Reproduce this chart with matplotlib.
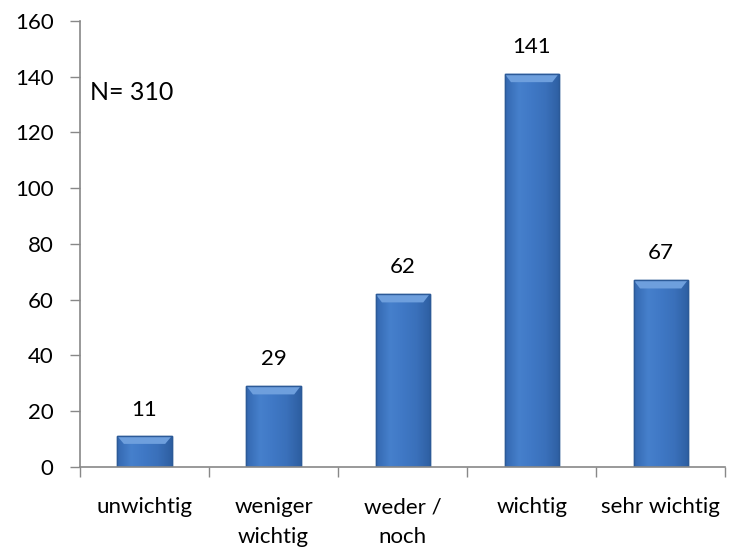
import numpy as np
import matplotlib.pyplot as plt
from matplotlib.colors import LinearSegmentedColormap

categories = ["unwichtig", "weniger\nwichtig", "weder /\nnoch", "wichtig", "sehr wichtig"]
counts = [11, 29, 62, 141, 67]
n_total = 310

plt.rcParams['font.family'] = ['Lato', 'DejaVu Sans']

fig = plt.figure(figsize=(7.34, 5.48), dpi=100)
ax = fig.add_axes([0.109, 0.148, 0.879, 0.814])

x = np.arange(len(categories))
width = 0.42
bars = ax.bar(x, counts, width=width, color='#3E76C2', edgecolor='#2C5A98', linewidth=1.0, zorder=2)

# horizontal shading across each bar to hint at the bevelled look
shade = LinearSegmentedColormap.from_list('shade', ['#3468B0', '#4680CC', '#3F78C5', '#3A70BA', '#2E5FA2'])
grad = np.linspace(0, 1, 64).reshape(1, -1)
for rect in bars:
    x0, w, h = rect.get_x(), rect.get_width(), rect.get_height()
    im = ax.imshow(grad, cmap=shade, aspect='auto', extent=(x0, x0 + w, 0, h), zorder=2.1)
    im.set_clip_path(rect)
    # lighter top bevel
    bev = min(3.0, h * 0.25)
    ax.fill([x0, x0 + w, x0 + w - 0.05, x0 + 0.05], [h, h, h - bev, h - bev],
            color='#6E9FDD', zorder=2.2, lw=0)
    ax.plot([x0, x0 + w, x0 + w, x0, x0], [0, 0, h, h, 0], color='#2C5A98', lw=1.0, zorder=2.3)

for xi, v in zip(x, counts):
    ax.text(xi, v + 6, str(v), ha='center', va='bottom', fontsize=16, color='#000000')

ax.text(0.016, 0.84, f"N= {n_total}", transform=ax.transAxes, fontsize=18, va='center')

ax.set_xlim(-0.5, len(categories) - 0.5)
ax.set_ylim(0, 160)
ax.set_yticks(range(0, 161, 20))
ax.set_xticks(x)
ax.set_xticklabels(categories, fontsize=16, linespacing=1.6)
ax.set_xticks(np.arange(-0.5, len(categories), 1), minor=True)
ax.tick_params(axis='x', which='major', length=0, pad=22)
ax.tick_params(axis='x', which='minor', length=7, color='#888888', width=1)
ax.tick_params(axis='y', length=7, color='#888888', width=1, labelsize=16, pad=12)

for s in ['top', 'right']:
    ax.spines[s].set_visible(False)
for s in ['left', 'bottom']:
    ax.spines[s].set_color('#888888')
    ax.spines[s].set_linewidth(1.2)

fig.savefig('out.png', dpi=100)
